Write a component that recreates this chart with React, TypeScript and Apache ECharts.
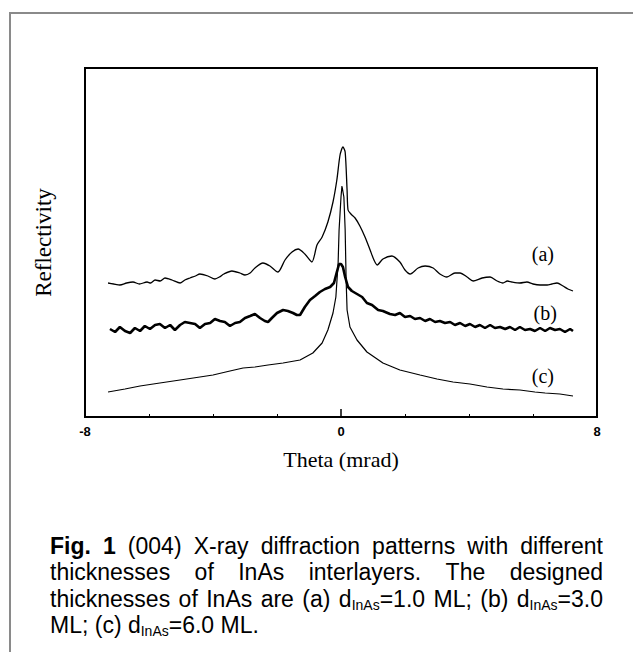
import React, { useEffect, useRef } from "react";
import * as echarts from "echarts";

// Curve (a): d_InAs = 1.0 ML
const THETA_A = [-7.28, -7.1, -6.91, -6.7, -6.5, -6.3, -6.06, -5.95, -5.81, -5.65, -5.5, -5.28, -5.03, -4.88, -4.72, -4.55, -4.41, -4.16, -3.94, -3.8, -3.66, -3.41, -3.16, -3.0, -2.84, -2.69, -2.44, -2.22, -1.97, -1.75, -1.53, -1.34, -1.13, -0.91, -0.75, -0.59, -0.41, -0.25, -0.13, -0.03, 0.06, 0.13, 0.19, 0.22, 0.31, 0.44, 0.59, 0.75, 0.91, 1.03, 1.13, 1.31, 1.59, 1.84, 2.0, 2.16, 2.41, 2.63, 2.88, 3.09, 3.31, 3.56, 3.72, 3.94, 4.13, 4.41, 4.66, 4.88, 5.06, 5.2, 5.34, 5.59, 5.81, 6.0, 6.22, 6.44, 6.59, 6.75, 6.94, 7.09, 7.25];
const REFL_A = [134, 133, 132, 134, 135, 133, 135, 134, 137, 136, 139, 137, 134, 137, 139, 141, 143, 141, 138, 140, 143, 146, 144, 142, 144, 149, 154, 151, 145, 157, 165, 168, 163, 155, 172, 180, 195, 215, 237, 262, 270, 265, 227, 207, 203, 199, 191, 180, 167, 157, 152, 158, 161, 155, 147, 143, 149, 151, 149, 143, 140, 144, 144, 140, 136, 139, 140, 136, 134, 136, 135, 134, 135, 133, 132, 132, 133, 134, 131, 128, 126];

// Curve (b): d_InAs = 3.0 ML
const THETA_B = [-7.22, -7.06, -6.91, -6.75, -6.59, -6.44, -6.28, -6.13, -5.97, -5.81, -5.66, -5.5, -5.34, -5.19, -5.03, -4.88, -4.72, -4.56, -4.41, -4.25, -4.09, -3.94, -3.78, -3.63, -3.47, -3.31, -3.16, -3.0, -2.84, -2.69, -2.53, -2.38, -2.28, -2.16, -2.0, -1.81, -1.66, -1.5, -1.38, -1.28, -1.13, -0.97, -0.81, -0.66, -0.5, -0.34, -0.22, -0.13, -0.06, 0.0, 0.06, 0.13, 0.22, 0.34, 0.5, 0.66, 0.81, 0.97, 1.16, 1.31, 1.53, 1.69, 1.84, 2.0, 2.16, 2.31, 2.47, 2.63, 2.78, 2.94, 3.09, 3.25, 3.41, 3.56, 3.72, 3.88, 4.03, 4.19, 4.34, 4.5, 4.66, 4.81, 4.97, 5.13, 5.28, 5.44, 5.59, 5.75, 5.91, 6.06, 6.22, 6.38, 6.53, 6.69, 6.84, 7.0, 7.16, 7.25];
const REFL_B = [88, 85, 90, 86, 84, 89, 86, 91, 88, 92, 93, 89, 92, 87, 92, 95, 94, 93, 89, 93, 94, 98, 96, 95, 91, 94, 95, 99, 101, 103, 99, 96, 95, 99, 104, 107, 106, 104, 102, 102, 110, 117, 121, 125, 128, 130, 134, 145, 153, 153, 150, 140, 130, 126, 123, 120, 114, 112, 107, 106, 103, 102, 104, 100, 101, 98, 99, 96, 98, 95, 96, 94, 95, 92, 94, 91, 93, 90, 92, 89, 92, 89, 90, 88, 90, 87, 90, 87, 88, 86, 89, 86, 89, 87, 88, 85, 88, 86];

// Curve (c): d_InAs = 6.0 ML
const THETA_C = [-7.28, -6.75, -6.28, -5.66, -5.03, -4.41, -4.0, -3.47, -3.06, -2.69, -2.28, -1.81, -1.28, -0.88, -0.59, -0.41, -0.25, -0.16, -0.09, -0.06, 0.0, 0.03, 0.09, 0.13, 0.16, 0.19, 0.28, 0.5, 0.81, 1.31, 1.84, 2.47, 3.0, 3.5, 4.03, 4.56, 5.06, 5.59, 6.06, 6.38, 6.84, 7.25];
const REFL_C = [25, 28, 31, 34, 37, 40, 42, 46, 49, 50, 52, 54, 57, 64, 74, 87, 104, 120, 154, 187, 220, 231, 220, 187, 137, 107, 90, 77, 65, 54, 47, 42, 38, 35, 33, 30, 28, 27, 25, 24, 23, 21];

const CURVE_LABELS = ["(a)", "(b)", "(c)"];
const LABEL_THETA = [6.31, 6.38, 6.31];
const LABEL_REFL = [163, 104, 41];

const X_MIN = -8;
const X_MAX = 8;
const X_INTERVAL = 8;
const Y_MIN = 0;
const Y_MAX = 349;
const X_NAME = "Theta (mrad)";
const Y_NAME = "Reflectivity";

const CAPTION_LINES = [
  "**Fig.** **1** (004) X-ray diffraction patterns with different",
  "thicknesses of InAs interlayers. The designed",
  "thicknesses of InAs are (a) d_{InAs}=1.0 ML; (b) d_{InAs}=3.0",
  "ML; (c) d_{InAs}=6.0 ML.",
];

const SERIF = "'Liberation Serif', 'Times New Roman', serif";
const SANS = "'Liberation Sans', Arial, sans-serif";

function zip(xs: number[], ys: number[]) {
  return xs.map((x, i) => [x, ys[i]]);
}

type Seg = { t: string; kind: "n" | "b" | "s" };

function parseWord(w: string): Seg[] {
  const segs: Seg[] = [];
  const re = /(\*\*[^*]+\*\*|_\{[^}]+\}|[^*_]+)/g;
  let m: RegExpExecArray | null;
  while ((m = re.exec(w))) {
    const s = m[0];
    if (s.startsWith("**")) segs.push({ t: s.slice(2, -2), kind: "b" });
    else if (s.startsWith("_{")) segs.push({ t: s.slice(2, -1), kind: "s" });
    else segs.push({ t: s, kind: "n" });
  }
  return segs;
}

function buildCaption(): any[] {
  const FS = 23;
  const SUB = 14;
  const left = 50;
  const right = 603;
  const ys = [546, 572, 599, 625];
  const canvas = document.createElement("canvas");
  const ctx = canvas.getContext("2d")!;
  const fontOf = (k: string) =>
    k === "b" ? `bold ${FS}px ${SANS}` : k === "s" ? `${SUB}px ${SANS}` : `${FS}px ${SANS}`;
  const segW = (s: Seg) => {
    ctx.font = fontOf(s.kind);
    return ctx.measureText(s.t).width;
  };
  const els: any[] = [];
  CAPTION_LINES.forEach((line, li) => {
    const words = line.split(" ").map(parseWord);
    const widths = words.map((segs) => segs.reduce((a, s) => a + segW(s), 0));
    const total = widths.reduce((a, b) => a + b, 0);
    ctx.font = fontOf("n");
    const space = ctx.measureText(" ").width;
    const last = li === CAPTION_LINES.length - 1;
    const gap = last || words.length < 2 ? space : (right - left - total) / (words.length - 1);
    let x = left;
    words.forEach((segs, wi) => {
      let sx = x;
      segs.forEach((s) => {
        els.push({
          type: "text",
          x: sx,
          y: ys[li] + (s.kind === "s" ? 6 : 0),
          silent: true,
          style: {
            text: s.t,
            fill: "#000",
            fontFamily: SANS,
            fontSize: s.kind === "s" ? SUB : FS,
            fontWeight: s.kind === "b" ? "bold" : "normal",
            align: "left",
            verticalAlign: "middle",
          },
        });
        sx += segW(s);
      });
      x += widths[wi] + gap;
    });
  });
  return els;
}

export default function App() {
  const ref = useRef<HTMLDivElement>(null);
  useEffect(() => {
    document.body.style.margin = "0";
    if (!ref.current) return;
    const chart = echarts.init(ref.current, undefined, { renderer: "svg" });
    const series = [
      [THETA_A, REFL_A, 1.3],
      [THETA_B, REFL_B, 2.6],
      [THETA_C, REFL_C, 1.2],
    ].map(([xs, ys, w], i) => ({
      type: "line",
      data: zip(xs as number[], ys as number[]),
      showSymbol: false,
      symbol: "none",
      silent: true,
      smooth: i === 0 ? 0.25 : false,
      lineStyle: { color: "#000", width: w as number },
      markPoint: {
        symbol: "circle",
        symbolSize: 0,
        silent: true,
        data: [{ coord: [LABEL_THETA[i], LABEL_REFL[i]] }],
        label: {
          show: true,
          position: "inside",
          formatter: CURVE_LABELS[i],
          fontFamily: SERIF,
          fontSize: 20,
          color: "#000",
        },
      },
    }));
    chart.setOption({
      animation: false,
      backgroundColor: "#fff",
      grid: {
        show: true,
        left: 85,
        right: 36,
        top: 68,
        bottom: 235,
        borderColor: "#000",
        borderWidth: 2,
        backgroundColor: "transparent",
      },
      xAxis: {
        type: "value",
        min: X_MIN,
        max: X_MAX,
        interval: X_INTERVAL,
        name: X_NAME,
        nameLocation: "middle",
        nameGap: 31,
        nameTextStyle: { fontFamily: SERIF, fontSize: 22, color: "#000" },
        axisLine: { show: false },
        axisTick: { show: true, inside: true, length: 8, lineStyle: { color: "#000", width: 1.5 } },
        minorTick: { show: true, splitNumber: 4, length: 3, lineStyle: { color: "#000", width: 1 } },
        splitLine: { show: false },
        axisLabel: { margin: 8, fontFamily: SANS, fontWeight: "bold", fontSize: 13, color: "#000" },
      },
      yAxis: {
        type: "value",
        min: Y_MIN,
        max: Y_MAX,
        name: Y_NAME,
        nameLocation: "middle",
        nameRotate: 90,
        nameGap: 30,
        nameTextStyle: { fontFamily: SERIF, fontSize: 23, color: "#000" },
        axisLine: { show: false },
        axisTick: { show: false },
        axisLabel: { show: false },
        splitLine: { show: false },
      },
      series,
      graphic: [
        {
          type: "rect",
          silent: true,
          shape: { x: 10, y: 13, width: 700, height: 700 },
          style: { fill: "none", stroke: "#8a8a8a", lineWidth: 2 },
        },
        ...buildCaption(),
      ],
    });
    return () => chart.dispose();
  }, []);
  return <div ref={ref} style={{ width: 633, height: 652 }} />;
}
